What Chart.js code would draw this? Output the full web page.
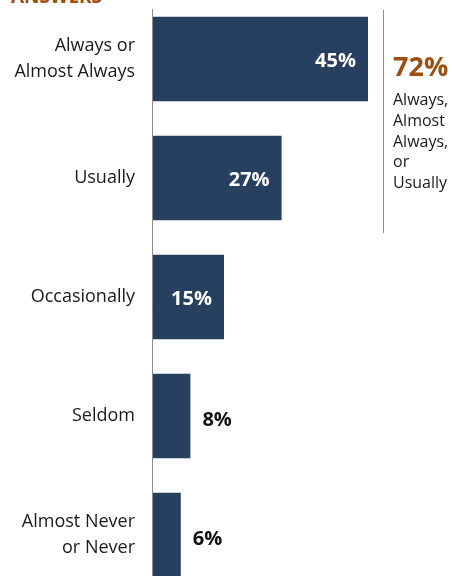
<!DOCTYPE html>
<html>
<head>
<meta charset="utf-8">
<script src="https://cdn.jsdelivr.net/npm/chart.js@4.4.0/dist/chart.umd.min.js"></script>
<style>
  html, body { margin: 0; padding: 0; background: #fff; overflow: hidden; }
  #wrap { position: relative; width: 452px; height: 576px; overflow: hidden; }
  #chartBox { position: absolute; left: 0; top: -10px; width: 452px; height: 610px; }
  .title { position: absolute; left: 11px; top: -17px; font: bold 19px "Open Sans", sans-serif; color: #9c4f0f; }
  .note-line { position: absolute; left: 383px; top: 10px; width: 1px; height: 223px; background: #8c8c8c; }
  .note-big { position: absolute; left: 393px; top: 47px; font: bold 27px "Open Sans", sans-serif; color: #9c4f0f; }
  .note-txt { position: absolute; left: 393px; top: 89px; font: 16px "Open Sans", sans-serif; line-height: 20.8px; color: #1a1a1a; }
</style>
</head>
<body>
<div id="wrap">
  <div class="title">ANSWERS</div>
  <div id="chartBox"><canvas id="myChart"></canvas></div>
  <div class="note-line"></div>
  <div class="note-big">72%</div>
  <div class="note-txt">Always,<br>Almost<br>Always,<br>or<br>Usually</div>
</div>
<script>
// 数据
const categories = [['Always or', 'Almost Always'], 'Usually', 'Occasionally', 'Seldom', ['Almost Never', 'or Never']];
const shares = [45, 27, 15, 8, 6];

// 柱子上的百分比标签
const barLabels = {
    id: 'barLabels',
    afterDatasetsDraw(chart) {
        const ctx = chart.ctx;
        const meta = chart.getDatasetMeta(0);
        ctx.save();
        ctx.font = 'bold 20px "Open Sans", sans-serif';
        ctx.textBaseline = 'middle';
        meta.data.forEach((bar, i) => {
            const v = shares[i];
            if (v >= 15) {
                ctx.fillStyle = '#ffffff';
                ctx.textAlign = 'right';
                ctx.fillText(v + '%', bar.x - 12, bar.y + 2);
            } else {
                ctx.fillStyle = '#111111';
                ctx.textAlign = 'left';
                ctx.fillText(v + '%', bar.x + 12, bar.y + 4);
            }
        });
        ctx.restore();
    }
};

// 左侧竖线
const axisLine = {
    id: 'axisLine',
    afterDraw(chart) {
        const ctx = chart.ctx;
        const x = chart.chartArea.left;
        ctx.save();
        ctx.strokeStyle = '#8c8c8c';
        ctx.lineWidth = 1;
        ctx.beginPath();
        ctx.moveTo(x + 0.5, 19);
        ctx.lineTo(x + 0.5, chart.height);
        ctx.stroke();
        ctx.restore();
    }
};

const ctx = document.getElementById('myChart').getContext('2d');
const chart = new Chart(ctx, {
    type: 'bar',
    data: {
        labels: categories,
        datasets: [{
            data: shares,
            backgroundColor: '#27405f',
            borderWidth: 0,
            barPercentage: 0.71,
            categoryPercentage: 1
        }]
    },
    options: {
        indexAxis: 'y',
        responsive: true,
        maintainAspectRatio: false,
        animation: false,
        layout: { padding: { top: 9.5, bottom: 5.5, right: 12, left: 0 } },
        plugins: {
            legend: { display: false },
            tooltip: { enabled: false }
        },
        scales: {
            x: {
                display: false,
                min: 0,
                max: 60
            },
            y: {
                grid: { display: false, drawTicks: false },
                border: { display: false },
                ticks: {
                    color: '#1a1a1a',
                    padding: 17,
                    font: { family: '"Open Sans", sans-serif', size: 18, lineHeight: 1.45 }
                },
                afterFit(scale) {
                    scale.width = 152;
                    scale.paddingTop = 0;
                    scale.paddingBottom = 0;
                }
            }
        }
    },
    plugins: [barLabels, axisLine]
});
</script>
</body>
</html>
